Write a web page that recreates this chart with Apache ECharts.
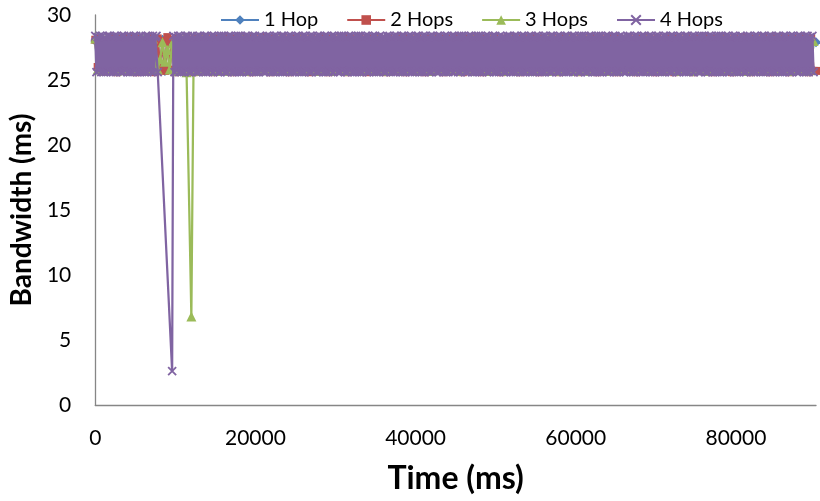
<!DOCTYPE html>
<html>
<head>
<meta charset="utf-8">
<title>Bandwidth over time</title>
<script src="https://cdn.jsdelivr.net/npm/echarts@6/dist/echarts.min.js"></script>
<style>
  html, body { margin: 0; padding: 0; background: #fff; }
  #chart { width: 820px; height: 501px; }
</style>
</head>
<body>
<div id="chart"></div>
<script>
// Sample times (ms) for the 1-3 hop runs
const timeMs = [
  0,300,600,900,1200,1500,1800,2100,2400,2700,
  3000,3300,3600,3900,4200,4500,4800,5100,5400,5700,
  6000,6300,6600,6900,7200,7500,7800,8100,8400,8700,
  9000,9300,9600,9900,10200,10500,10800,11100,11400,11700,
  12000,12300,12600,12900,13200,13500,13800,14100,14400,14700,
  15000,15300,15600,15900,16200,16500,16800,17100,17400,17700,
  18000,18300,18600,18900,19200,19500,19800,20100,20400,20700,
  21000,21300,21600,21900,22200,22500,22800,23100,23400,23700,
  24000,24300,24600,24900,25200,25500,25800,26100,26400,26700,
  27000,27300,27600,27900,28200,28500,28800,29100,29400,29700,
  30000,30300,30600,30900,31200,31500,31800,32100,32400,32700,
  33000,33300,33600,33900,34200,34500,34800,35100,35400,35700,
  36000,36300,36600,36900,37200,37500,37800,38100,38400,38700,
  39000,39300,39600,39900,40200,40500,40800,41100,41400,41700,
  42000,42300,42600,42900,43200,43500,43800,44100,44400,44700,
  45000,45300,45600,45900,46200,46500,46800,47100,47400,47700,
  48000,48300,48600,48900,49200,49500,49800,50100,50400,50700,
  51000,51300,51600,51900,52200,52500,52800,53100,53400,53700,
  54000,54300,54600,54900,55200,55500,55800,56100,56400,56700,
  57000,57300,57600,57900,58200,58500,58800,59100,59400,59700,
  60000,60300,60600,60900,61200,61500,61800,62100,62400,62700,
  63000,63300,63600,63900,64200,64500,64800,65100,65400,65700,
  66000,66300,66600,66900,67200,67500,67800,68100,68400,68700,
  69000,69300,69600,69900,70200,70500,70800,71100,71400,71700,
  72000,72300,72600,72900,73200,73500,73800,74100,74400,74700,
  75000,75300,75600,75900,76200,76500,76800,77100,77400,77700,
  78000,78300,78600,78900,79200,79500,79800,80100,80400,80700,
  81000,81300,81600,81900,82200,82500,82800,83100,83400,83700,
  84000,84300,84600,84900,85200,85500,85800,86100,86400,86700,
  87000,87300,87600,87900,88200,88500,88800,89100,89400,89700,
  90000
];

// Sample times (ms) for the 4 hop run (finer sampling)
const timeMs4 = [
  0,150,300,450,600,750,900,1050,1200,1350,1500,1650,1800,1950,2100,2250,2400,2550,2700,2850,
  3000,3150,3300,3450,3600,3750,3900,4050,4200,4350,4500,4650,4800,4950,5100,5250,5400,5550,5700,5850,
  6000,6150,6300,6450,6600,6750,6900,7050,7200,7350,7500,7650,7800,7950,8100,8250,8400,8550,8700,8850,
  9000,9150,9300,9450,9600,9750,9900,10050,10200,10350,10500,10650,10800,10950,11100,11250,11400,11550,11700,11850,
  12000,12150,12300,12450,12600,12750,12900,13050,13200,13350,13500,13650,13800,13950,14100,14250,14400,14550,14700,14850,
  15000,15150,15300,15450,15600,15750,15900,16050,16200,16350,16500,16650,16800,16950,17100,17250,17400,17550,17700,17850,
  18000,18150,18300,18450,18600,18750,18900,19050,19200,19350,19500,19650,19800,19950,20100,20250,20400,20550,20700,20850,
  21000,21150,21300,21450,21600,21750,21900,22050,22200,22350,22500,22650,22800,22950,23100,23250,23400,23550,23700,23850,
  24000,24150,24300,24450,24600,24750,24900,25050,25200,25350,25500,25650,25800,25950,26100,26250,26400,26550,26700,26850,
  27000,27150,27300,27450,27600,27750,27900,28050,28200,28350,28500,28650,28800,28950,29100,29250,29400,29550,29700,29850,
  30000,30150,30300,30450,30600,30750,30900,31050,31200,31350,31500,31650,31800,31950,32100,32250,32400,32550,32700,32850,
  33000,33150,33300,33450,33600,33750,33900,34050,34200,34350,34500,34650,34800,34950,35100,35250,35400,35550,35700,35850,
  36000,36150,36300,36450,36600,36750,36900,37050,37200,37350,37500,37650,37800,37950,38100,38250,38400,38550,38700,38850,
  39000,39150,39300,39450,39600,39750,39900,40050,40200,40350,40500,40650,40800,40950,41100,41250,41400,41550,41700,41850,
  42000,42150,42300,42450,42600,42750,42900,43050,43200,43350,43500,43650,43800,43950,44100,44250,44400,44550,44700,44850,
  45000,45150,45300,45450,45600,45750,45900,46050,46200,46350,46500,46650,46800,46950,47100,47250,47400,47550,47700,47850,
  48000,48150,48300,48450,48600,48750,48900,49050,49200,49350,49500,49650,49800,49950,50100,50250,50400,50550,50700,50850,
  51000,51150,51300,51450,51600,51750,51900,52050,52200,52350,52500,52650,52800,52950,53100,53250,53400,53550,53700,53850,
  54000,54150,54300,54450,54600,54750,54900,55050,55200,55350,55500,55650,55800,55950,56100,56250,56400,56550,56700,56850,
  57000,57150,57300,57450,57600,57750,57900,58050,58200,58350,58500,58650,58800,58950,59100,59250,59400,59550,59700,59850,
  60000,60150,60300,60450,60600,60750,60900,61050,61200,61350,61500,61650,61800,61950,62100,62250,62400,62550,62700,62850,
  63000,63150,63300,63450,63600,63750,63900,64050,64200,64350,64500,64650,64800,64950,65100,65250,65400,65550,65700,65850,
  66000,66150,66300,66450,66600,66750,66900,67050,67200,67350,67500,67650,67800,67950,68100,68250,68400,68550,68700,68850,
  69000,69150,69300,69450,69600,69750,69900,70050,70200,70350,70500,70650,70800,70950,71100,71250,71400,71550,71700,71850,
  72000,72150,72300,72450,72600,72750,72900,73050,73200,73350,73500,73650,73800,73950,74100,74250,74400,74550,74700,74850,
  75000,75150,75300,75450,75600,75750,75900,76050,76200,76350,76500,76650,76800,76950,77100,77250,77400,77550,77700,77850,
  78000,78150,78300,78450,78600,78750,78900,79050,79200,79350,79500,79650,79800,79950,80100,80250,80400,80550,80700,80850,
  81000,81150,81300,81450,81600,81750,81900,82050,82200,82350,82500,82650,82800,82950,83100,83250,83400,83550,83700,83850,
  84000,84150,84300,84450,84600,84750,84900,85050,85200,85350,85500,85650,85800,85950,86100,86250,86400,86550,86700,86850,
  87000,87150,87300,87450,87600,87750,87900,88050,88200,88350,88500,88650,88800,88950,89100,89250,89400,89550,89700
];

// Bandwidth per hop count (null = no sample)
const hop1 = [
  28.0,25.8,28.1,25.7,27.9,25.8,28.0,25.9,28.1,25.7,
  28.0,25.8,27.9,25.7,28.1,25.8,28.0,25.7,27.9,25.8,
  28.1,25.7,28.0,25.8,27.9,25.9,28.0,25.8,28.1,25.7,
  28.0,25.8,27.9,25.7,28.1,25.8,28.0,25.7,28.0,25.9,
  27.9,25.8,28.1,25.7,28.0,25.8,27.9,25.9,28.0,25.7,
  28.1,25.8,28.0,25.7,27.9,25.8,28.1,25.9,28.0,25.7,
  27.9,25.8,28.0,25.7,28.1,25.8,28.0,25.9,27.9,25.7,
  28.0,25.8,28.1,25.7,28.0,25.8,27.9,25.7,28.1,25.9,
  28.0,25.7,27.9,25.8,28.1,25.7,28.0,25.8,28.0,25.9,
  27.9,25.7,28.1,25.8,28.0,25.7,27.9,25.8,28.1,25.9,
  28.0,25.8,27.9,25.7,28.1,25.8,28.0,25.7,27.9,25.8,
  28.1,25.9,28.0,25.7,27.9,25.8,28.1,25.7,28.0,25.8,
  27.9,25.9,28.0,25.7,28.1,25.8,28.0,25.7,27.9,25.8,
  28.0,25.9,28.1,25.7,28.0,25.8,27.9,25.7,28.1,25.8,
  28.0,25.7,27.9,25.9,28.1,25.8,28.0,25.7,28.0,25.8,
  27.9,25.7,28.1,25.8,28.0,25.9,27.9,25.7,28.1,25.8,
  28.0,25.7,28.0,25.8,27.9,25.9,28.1,25.7,28.0,25.8,
  27.9,25.7,28.1,25.8,28.0,25.7,28.0,25.9,27.9,25.8,
  28.1,25.7,28.0,25.8,27.9,25.7,28.1,25.9,28.0,25.8,
  27.9,25.7,28.0,25.8,28.1,25.7,28.0,25.9,27.9,25.8,
  28.0,25.7,28.1,25.8,28.0,25.7,27.9,25.8,28.1,25.9,
  28.0,25.7,27.9,25.8,28.1,25.7,28.0,25.8,28.0,25.9,
  27.9,25.7,28.1,25.8,28.0,25.7,27.9,25.8,28.1,25.9,
  28.0,25.8,27.9,25.7,28.1,25.8,28.0,25.7,27.9,25.8,
  28.1,25.9,28.0,25.7,27.9,25.8,28.1,25.7,28.0,25.8,
  27.9,25.9,28.0,25.7,28.1,25.8,28.0,25.7,27.9,25.8,
  28.0,25.9,28.1,25.7,28.0,25.8,27.9,25.7,28.1,25.8,
  28.0,25.7,27.9,25.9,28.1,25.8,28.0,25.7,28.0,25.8,
  27.9,25.7,28.1,25.8,28.0,25.9,27.9,25.7,28.1,25.8,
  28.0,25.7,28.0,25.8,27.9,25.9,28.1,25.7,25.8,28.0,
  27.9
];

const hop2 = [
  28.1,26.0,28.2,25.8,28.0,25.7,28.3,25.8,28.1,25.6,
  28.2,25.8,28.0,25.7,28.3,25.8,28.1,25.6,28.2,25.8,
  28.0,25.7,28.3,25.8,28.1,25.6,28.2,25.8,28.0,25.7,
  28.3,25.8,28.1,25.6,28.2,25.8,28.0,25.7,28.3,25.8,
  28.1,25.6,28.2,25.8,28.3,25.7,28.3,25.8,28.1,25.6,
  28.2,25.8,28.0,25.7,28.3,25.8,28.1,25.6,28.2,25.8,
  28.0,25.7,28.3,25.8,28.1,25.6,28.3,25.8,28.0,25.7,
  28.3,25.8,28.1,25.6,28.2,25.8,28.0,25.7,28.3,25.8,
  28.1,25.6,28.2,25.8,28.0,25.7,28.3,25.8,28.1,25.6,
  28.2,25.8,28.0,25.7,28.3,25.8,28.1,25.6,28.2,25.8,
  28.0,25.7,28.3,25.8,28.3,25.6,28.2,25.8,28.0,25.7,
  28.3,25.8,28.1,25.6,28.2,25.8,28.0,25.7,28.3,25.8,
  28.1,25.6,28.2,25.8,28.0,25.7,28.3,25.8,28.3,25.6,
  28.2,25.8,28.0,25.7,28.3,25.8,28.1,25.6,28.2,25.8,
  28.0,25.7,28.3,25.8,28.1,25.6,28.2,25.8,28.0,25.7,
  28.3,25.8,28.1,25.6,28.2,25.8,28.0,25.7,28.3,25.8,
  28.1,25.6,28.2,25.8,28.0,25.7,28.3,25.8,28.1,25.6,
  28.2,25.8,28.3,25.7,28.3,25.8,28.1,25.6,28.2,25.8,
  28.0,25.7,28.3,25.8,28.1,25.6,28.2,25.8,28.0,25.7,
  28.3,25.8,28.1,25.6,28.3,25.8,28.0,25.7,28.3,25.8,
  28.1,25.6,28.2,25.8,28.0,25.7,28.3,25.8,28.1,25.6,
  28.2,25.8,28.0,25.7,28.3,25.8,28.3,25.6,28.2,25.8,
  28.0,25.7,28.3,25.8,28.1,25.6,28.2,25.8,28.0,25.7,
  28.3,25.8,28.1,25.6,28.2,25.8,28.0,25.7,28.3,25.8,
  28.1,25.6,28.2,25.8,28.0,25.7,28.3,25.8,28.1,25.6,
  28.2,25.8,28.0,25.7,28.3,25.8,28.1,25.6,28.2,25.8,
  28.3,25.7,28.3,25.8,28.1,25.6,28.2,25.8,28.0,25.7,
  28.3,25.8,28.1,25.6,28.2,25.8,28.0,25.7,28.3,25.8,
  28.1,25.6,28.3,25.8,28.0,25.7,28.3,25.8,28.1,25.6,
  28.2,25.8,28.0,25.7,28.3,25.8,28.1,25.6,28.2,25.7,
  25.7
];

const hop3 = [
  28.2,25.8,27.9,25.7,28.1,25.9,28.0,25.8,28.2,25.7,
  28.0,25.9,28.1,25.8,27.9,25.7,28.2,25.8,28.0,25.9,
  28.1,25.7,28.0,25.8,28.2,25.9,25.8,26.6,27.9,26.4,
  27.3,25.8,27.8,28.1,25.7,28.0,25.9,28.2,25.6,null,
  6.8,28.1,25.8,28.0,25.7,28.2,25.9,27.9,25.8,28.1,
  25.7,28.0,25.9,28.2,25.8,27.9,25.7,28.1,25.8,28.0,
  25.9,28.2,25.7,27.9,25.8,28.1,25.9,28.0,25.7,28.2,
  25.8,27.9,25.9,28.1,25.7,28.0,25.8,28.2,25.9,27.9,
  25.7,28.1,25.8,28.0,25.9,28.2,25.7,27.9,25.8,28.1,
  25.9,28.0,25.7,28.2,25.8,27.9,25.9,28.1,25.7,28.0,
  25.8,28.2,25.9,27.9,25.7,28.1,25.8,28.0,25.9,28.2,
  25.7,27.9,25.8,28.1,25.9,28.0,25.7,28.2,25.8,27.9,
  25.9,28.1,25.7,28.0,25.8,28.2,25.9,27.9,25.7,28.1,
  25.8,28.0,25.9,28.2,25.7,27.9,25.8,28.1,25.9,28.0,
  25.7,28.2,25.8,27.9,25.9,28.1,25.7,28.0,25.8,28.2,
  25.9,27.9,25.7,28.1,25.8,28.0,25.9,28.2,25.7,27.9,
  25.8,28.1,25.9,28.0,25.7,28.2,25.8,27.9,25.9,28.1,
  25.7,28.0,25.8,28.2,25.9,27.9,25.7,28.1,25.8,28.0,
  25.9,28.2,25.7,27.9,25.8,28.1,25.9,28.0,25.7,28.2,
  25.8,27.9,25.9,28.1,25.7,28.0,25.8,28.2,25.9,27.9,
  25.7,28.1,25.8,28.0,25.9,28.2,25.7,27.9,25.8,28.1,
  25.9,28.0,25.7,28.2,25.8,27.9,25.9,28.1,25.7,28.0,
  25.8,28.2,25.9,27.9,25.7,28.1,25.8,28.0,25.9,28.2,
  25.7,27.9,25.8,28.1,25.9,28.0,25.7,28.2,25.8,27.9,
  25.9,28.1,25.7,28.0,25.8,28.2,25.9,27.9,25.7,28.1,
  25.8,28.0,25.9,28.2,25.7,27.9,25.8,28.1,25.9,28.0,
  25.7,28.2,25.8,27.9,25.9,28.1,25.7,28.0,25.8,28.2,
  25.9,27.9,25.7,28.1,25.8,28.0,25.9,28.2,25.7,27.9,
  25.8,28.1,25.9,28.0,25.7,28.2,25.8,27.9,25.9,28.1,
  25.7,28.0,25.8,28.2,25.9,27.9,25.7,28.1,25.8,28.0,
  null
];

const hop4 = [
  28.4,25.6,28.3,25.7,28.4,25.6,28.4,25.6,28.3,25.6,28.4,25.7,28.4,25.6,28.3,25.6,28.4,25.6,28.4,25.7,
  28.3,25.6,28.4,25.6,28.4,25.7,28.3,25.6,28.4,25.6,28.3,25.6,28.4,25.7,28.4,25.6,28.3,25.6,28.4,25.6,
  28.3,25.6,28.4,25.6,28.4,25.7,28.3,25.6,28.4,25.6,28.3,28.4,25.6,null,null,null,null,null,null,null,
  null,null,null,null,2.6,28.4,25.6,28.3,25.7,28.4,25.6,28.4,25.6,28.3,25.6,28.4,25.7,28.4,25.6,28.3,
  25.6,28.4,25.7,28.3,25.6,28.4,25.6,28.4,25.7,28.3,25.6,28.4,25.6,28.4,25.6,28.3,25.7,28.4,25.6,28.4,
  25.7,28.3,25.6,28.4,25.6,28.4,25.7,28.4,25.6,28.3,25.6,28.4,25.7,28.4,25.6,28.3,25.6,28.4,25.6,28.4,
  25.6,28.4,25.6,28.3,25.7,28.4,25.6,28.4,25.6,28.3,25.7,28.4,25.6,28.4,25.6,28.3,25.6,28.4,25.7,28.3,
  25.6,28.3,25.6,28.4,25.7,28.4,25.6,28.3,25.6,28.4,25.6,28.4,25.7,28.3,25.6,28.4,25.6,28.4,25.6,28.3,
  25.7,28.4,25.6,28.4,25.6,28.3,25.6,28.4,25.7,28.4,25.6,28.3,25.6,28.4,25.6,28.4,25.7,28.3,25.6,28.4,
  25.6,28.4,25.7,28.3,25.6,28.4,25.6,28.4,25.7,28.3,25.6,28.4,25.6,28.4,25.6,28.3,25.7,28.4,25.6,28.4,
  25.7,28.3,25.6,28.4,25.6,28.4,25.7,28.4,25.6,28.3,25.6,28.4,25.7,28.4,25.6,28.3,25.6,28.4,25.6,28.4,
  25.6,28.4,25.6,28.3,25.7,28.4,25.6,28.4,25.6,28.3,25.7,28.4,25.6,28.4,25.6,28.3,25.6,28.4,25.7,28.3,
  25.6,28.3,25.6,28.4,25.7,28.4,25.6,28.3,25.6,28.4,25.6,28.4,25.7,28.3,25.6,28.4,25.6,28.4,25.6,28.3,
  25.7,28.4,25.6,28.4,25.6,28.3,25.6,28.4,25.7,28.4,25.6,28.3,25.6,28.4,25.6,28.4,25.7,28.3,25.6,28.4,
  25.6,28.4,25.7,28.3,25.6,28.4,25.6,28.4,25.7,28.3,25.6,28.4,25.6,28.4,25.6,28.3,25.7,28.4,25.6,28.4,
  25.7,28.3,25.6,28.4,25.6,28.4,25.7,28.4,25.6,28.3,25.6,28.4,25.7,28.4,25.6,28.3,25.6,28.4,25.6,28.4,
  25.6,28.4,25.6,28.3,25.7,28.4,25.6,28.4,25.6,28.3,25.7,28.4,25.6,28.4,25.6,28.3,25.6,28.4,25.7,28.3,
  25.6,28.3,25.6,28.4,25.7,28.4,25.6,28.3,25.6,28.4,25.6,28.4,25.7,28.3,25.6,28.4,25.6,28.4,25.6,28.3,
  25.7,28.4,25.6,28.4,25.6,28.3,25.6,28.4,25.7,28.4,25.6,28.3,25.6,28.4,25.6,28.4,25.7,28.3,25.6,28.4,
  25.6,28.4,25.7,28.3,25.6,28.4,25.6,28.4,25.7,28.3,25.6,28.4,25.6,28.4,25.6,28.3,25.7,28.4,25.6,28.4,
  25.7,28.3,25.6,28.4,25.6,28.4,25.7,28.4,25.6,28.3,25.6,28.4,25.7,28.4,25.6,28.3,25.6,28.4,25.6,28.4,
  25.6,28.4,25.6,28.3,25.7,28.4,25.6,28.4,25.6,28.3,25.7,28.4,25.6,28.4,25.6,28.3,25.6,28.4,25.7,28.3,
  25.6,28.3,25.6,28.4,25.7,28.4,25.6,28.3,25.6,28.4,25.6,28.4,25.7,28.3,25.6,28.4,25.6,28.4,25.6,28.3,
  25.7,28.4,25.6,28.4,25.6,28.3,25.6,28.4,25.7,28.4,25.6,28.3,25.6,28.4,25.6,28.4,25.7,28.3,25.6,28.4,
  25.6,28.4,25.7,28.3,25.6,28.4,25.6,28.4,25.7,28.3,25.6,28.4,25.6,28.4,25.6,28.3,25.7,28.4,25.6,28.4,
  25.7,28.3,25.6,28.4,25.6,28.4,25.7,28.4,25.6,28.3,25.6,28.4,25.7,28.4,25.6,28.3,25.6,28.4,25.6,28.4,
  25.6,28.4,25.6,28.3,25.7,28.4,25.6,28.4,25.6,28.3,25.7,28.4,25.6,28.4,25.6,28.3,25.6,28.4,25.7,28.3,
  25.6,28.3,25.6,28.4,25.7,28.4,25.6,28.3,25.6,28.4,25.6,28.4,25.7,28.3,25.6,28.4,25.6,28.4,25.6,28.3,
  25.7,28.4,25.6,28.4,25.6,28.3,25.6,28.4,25.7,28.4,25.6,28.3,25.6,28.4,25.6,28.4,25.7,28.3,25.6,28.4,
  25.6,28.4,25.7,28.3,25.6,28.4,25.6,28.4,25.7,28.3,25.6,28.4,25.6,28.4,25.6,28.3,25.7,28.4,25.6
];

const seriesNames = ['1 Hop', '2 Hops', '3 Hops', '4 Hops'];
const seriesTimes = [timeMs, timeMs, timeMs, timeMs4];
const seriesValues = [hop1, hop2, hop3, hop4];
const seriesColors = ['#4F81BD', '#C0504D', '#9BBB59', '#8064A2'];
const seriesSymbols = ['diamond', 'rect', 'triangle', 'path://M0,0L10,10M10,0L0,10'];
const symbolSizes = [10, 8, 10, 8];

const xTitle = 'Time (ms)';
const yTitle = 'Bandwidth (ms)';
const FONT = 'Lato, "Open Sans", sans-serif';

function pairs(times, values) {
  return times.map((t, i) => [t, values[i]]);
}

const series = seriesNames.map((name, k) => ({
  name: name,
  type: 'line',
  data: pairs(seriesTimes[k], seriesValues[k]),
  connectNulls: true,
  showAllSymbol: true,
  symbol: seriesSymbols[k],
  symbolSize: symbolSizes[k],
  lineStyle: { color: seriesColors[k], width: 2.25 },
  itemStyle: k === 3
    ? { color: seriesColors[k], borderColor: seriesColors[k], borderWidth: 1.8 }
    : { color: seriesColors[k], borderColor: seriesColors[k], borderWidth: 0 },
  emphasis: { disabled: true },
  z: 2 + k
}));

const chart = echarts.init(document.getElementById('chart'), null, { renderer: 'canvas' });
chart.setOption({
  animation: false,
  backgroundColor: '#ffffff',
  legend: {
    data: seriesNames,
    top: 5,
    left: 215,
    itemWidth: 38,
    itemHeight: 12,
    itemGap: 28,
    textStyle: { fontFamily: FONT, fontSize: 20, color: '#000' }
  },
  grid: { left: 92, right: 4, top: 15, bottom: 96, containLabel: false },
  xAxis: {
    type: 'value',
    min: 0,
    max: 90000,
    interval: 20000,
    name: xTitle,
    nameLocation: 'middle',
    nameGap: 58,
    nameTextStyle: { fontFamily: FONT, fontSize: 32, fontWeight: 'bold', color: '#000' },
    axisLine: { show: true, lineStyle: { color: '#868686', width: 1.3 } },
    axisTick: { show: false },
    splitLine: { show: false },
    axisLabel: {
      showMaxLabel: false, margin: 23, fontFamily: FONT, fontSize: 21, color: '#000',
      formatter: v => String(v)
    }
  },
  yAxis: {
    type: 'value',
    min: 0,
    max: 30,
    interval: 5,
    name: yTitle,
    nameLocation: 'middle',
    nameGap: 56,
    nameTextStyle: { fontFamily: FONT, fontSize: 28, fontWeight: 'bold', color: '#000' },
    axisLine: { show: true, lineStyle: { color: '#868686', width: 1.3 } },
    axisTick: { show: false },
    splitLine: { show: false },
    axisLabel: { margin: 24, fontFamily: FONT, fontSize: 21, color: '#000' }
  },
  series: series
});
</script>
</body>
</html>
